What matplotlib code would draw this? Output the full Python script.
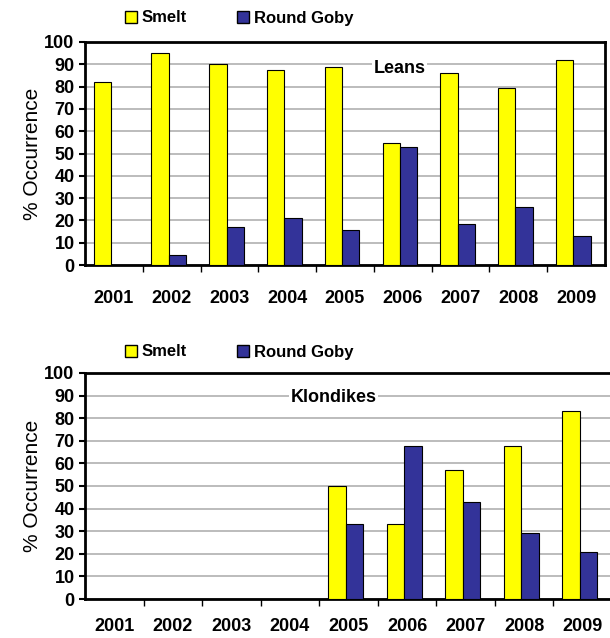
import numpy as np
import matplotlib.pyplot as plt
from matplotlib.patches import Patch

years = ['2001', '2002', '2003', '2004', '2005', '2006', '2007', '2008', '2009']
leans_smelt = [82, 95, 90, 87.5, 89, 54.5, 86, 79.5, 92]
leans_goby = [0, 4.5, 17, 21, 15.5, 53, 18.5, 26, 13]
klon_smelt = [0, 0, 0, 0, 50, 33, 57, 67.5, 83]
klon_goby = [0, 0, 0, 0, 33, 67.5, 43, 29, 21]

YELLOW = '#ffff00'
BLUE = '#333399'

plt.rcParams['font.family'] = ['Liberation Sans', 'DejaVu Sans']

fig = plt.figure(figsize=(6.1, 6.38), dpi=100)
W, H = 610, 638


def draw_bars(ax, x, vals, color):
    vals = np.array(vals, dtype=float)
    keep = vals > 0
    ax.bar(x[keep], vals[keep], 0.3, color=color, edgecolor='black', linewidth=0.8, zorder=3)


def panel(rect, smelt, goby, title, title_xy, legend_y, right_spine, xpad):
    l, t, r, b = rect
    ax = fig.add_axes([l / W, 1 - b / H, (r - l) / W, (b - t) / H])
    x = np.arange(len(years))
    draw_bars(ax, x - 0.2, smelt, YELLOW)
    draw_bars(ax, x + 0.1, goby, BLUE)
    ax.set_xlim(-0.5, len(years) - 0.5)
    ax.set_ylim(0, 100)
    ax.set_yticks(range(0, 101, 10))
    ax.yaxis.grid(True, color='#b0b0b0', linewidth=1.2, zorder=0)
    ax.set_xticks(x)
    ax.set_xticklabels(years, fontsize=13, fontweight='bold')
    ax.tick_params(axis='x', length=0, pad=xpad)
    ax.set_xticks(np.arange(0.5, len(years) - 0.5, 1), minor=True)
    ax.tick_params(axis='x', which='minor', length=5, width=1, direction='out')
    ax.tick_params(axis='y', labelsize=13, length=4, width=1.5)
    for lab in ax.get_yticklabels():
        lab.set_fontweight('bold')
    ax.set_ylabel('% Occurrence', fontsize=15, labelpad=2)
    for s in ax.spines.values():
        s.set_linewidth(2)
    ax.spines['right'].set_visible(right_spine)
    ax.text(title_xy[0], title_xy[1], title, fontsize=13, fontweight='bold',
            ha='center', va='center', transform=ax.transData,
            bbox=dict(facecolor='white', edgecolor='none', pad=1), zorder=4)
    handles = [Patch(facecolor=YELLOW, edgecolor='black', label='Smelt'),
               Patch(facecolor=BLUE, edgecolor='black', label='Round Goby')]
    fig.legend(handles=handles, loc='center left', bbox_to_anchor=(110 / W, 1 - legend_y / H),
               ncol=2, frameon=False, handlelength=0.7, handleheight=0.7,
               handletextpad=0.3, columnspacing=3.0, prop={'weight': 'bold', 'size': 12})
    return ax


panel((85, 42, 605, 265), leans_smelt, leans_goby, 'Leans', (4.95, 88), 18, True, 18)
panel((85, 373, 612, 599), klon_smelt, klon_goby, 'Klondikes', (3.75, 89), 352, False, 14)

fig.savefig('out.png', dpi=100)
